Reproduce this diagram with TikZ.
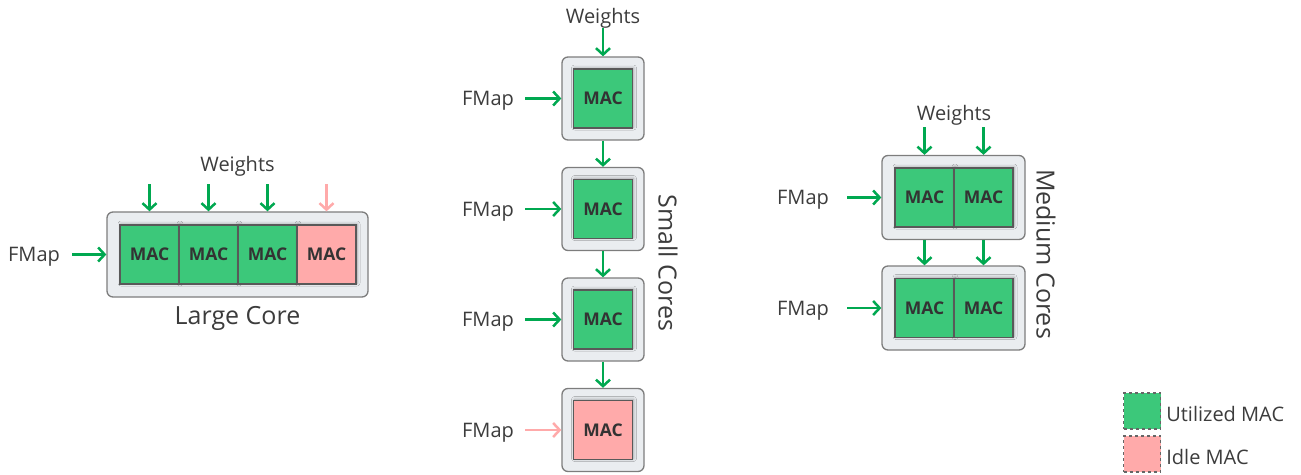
\documentclass[tikz,border=0pt]{standalone}
\usepackage{fontspec}
\setmainfont{Open Sans}
\usetikzlibrary{arrows.meta,shadows.blur}
\definecolor{macgreen}{RGB}{60,200,122}
\definecolor{macpink}{RGB}{255,170,170}
\definecolor{flowgreen}{RGB}{0,168,80}
\definecolor{flowpink}{RGB}{255,170,170}
\definecolor{corefill}{RGB}{234,237,240}
\definecolor{coreline}{RGB}{125,125,125}
\definecolor{txt}{RGB}{60,60,60}
\tikzset{
  core/.style={draw=coreline, fill=corefill, line width=1.3pt, rounded corners=6pt},
  mac/.style={draw=black!65, line width=1.2pt, minimum width=59pt, minimum height=59pt,
    inner sep=0pt, font=\bfseries\fontsize{17.5}{20}\selectfont, text=txt!85!black,
    blur shadow={shadow xshift=1pt, shadow yshift=1pt, shadow blur radius=3pt,
      shadow blur steps=8, shadow opacity=30}},
  used/.style={mac, fill=macgreen},
  idle/.style={mac, fill=macpink},
  flow/.style={draw=flowgreen, line width=2.6pt, -{Straight Barb[length=6.5pt,width=14pt,line width=2.5pt]}},
  idleflow/.style={flow, draw=flowpink},
  lbl/.style={font=\fontsize{20}{22}\selectfont, text=txt, inner sep=1pt, yshift=-2.5pt},
  title/.style={font=\fontsize{25}{28}\selectfont, text=txt, inner sep=1pt},
  key/.style={draw=black!60, dashed, line width=1.3pt, minimum width=37pt, minimum height=36pt, inner sep=0pt}
}
\begin{document}
\begin{tikzpicture}[x=1pt,y=-1pt]
\useasboundingbox (0,0) rectangle (1301,474);

% ---------- large core ----------
\node[core, minimum width=261pt, minimum height=85pt] (L) at (237.5,254.5) {};
\node[used] (L1) at (149.5,254.5) {MAC};
\node[used] (L2) at (208.5,254.5) {MAC};
\node[used] (L3) at (267.5,254.5) {MAC};
\node[idle] (L4) at (326.5,254.5) {MAC};
\node[lbl] (Lw) at (237.5,164) {Weights};
\foreach \i/\x in {1/149.5,2/208.5,3/267.5,4/326.5}
  \coordinate (Lw\i) at (\x,184);
\draw[flow] (Lw1) -- (Lw1 |- L.north);
\draw[flow] (Lw2) -- (Lw2 |- L.north);
\draw[flow] (Lw3) -- (Lw3 |- L.north);
\draw[idleflow] (Lw4) -- (Lw4 |- L.north);
\node[lbl] (Lf) at (34,254) {FMap};
\coordinate (Lfs) at (72,254.5);
\draw[flow] (Lfs) -- (L.west);
\node[title] (Lt) at (237.5,318) {Large Core};

% ---------- small cores ----------
\foreach \k/\y in {1/98.5,2/209,3/319.5,4/430}{
  \node[core, minimum width=82pt, minimum height=83pt] (S\k) at (603,\y) {};
  \node[lbl] (Sf\k) at (488,\y) {FMap};
  \coordinate (Sa\k) at (525,\y);
}
\node[used] (S1m) at (S1) {MAC};
\node[used] (S2m) at (S2) {MAC};
\node[used] (S3m) at (S3) {MAC};
\node[idle] (S4m) at (S4) {MAC};
\node[lbl] (Sw) at (603,16) {Weights};
\coordinate (Swa) at (603,28);
\draw[flow] (Swa) -- (S1.north);
\draw[flow] (S1.south) -- (S2.north);
\draw[flow] (S2.south) -- (S3.north);
\draw[flow] (S3.south) -- (S4.north);
\draw[flow] (Sa1) -- (S1.west);
\draw[flow] (Sa2) -- (S2.west);
\draw[flow] (Sa3) -- (S3.west);
\draw[idleflow] (Sa4) -- (S4.west);
\node[title, rotate=-90] (St) at (668,263) {Small Cores};

% ---------- medium cores ----------
\foreach \k/\y in {1/197.5,2/308}{
  \node[core, minimum width=143pt, minimum height=84pt] (M\k) at (953.5,\y) {};
  \node[used] (M\k a) at (924.5,\y) {MAC};
  \node[used] (M\k b) at (983.5,\y) {MAC};
  \node[lbl] (Mf\k) at (803,\y) {FMap};
  \coordinate (Ma\k) at (847,\y);
  \draw[flow] (Ma\k) -- (M\k.west);
}
\node[lbl] (Mw) at (954,113) {Weights};
\coordinate (Mw1) at (924.5,127);
\coordinate (Mw2) at (983.5,127);
\draw[flow] (Mw1) -- (Mw1 |- M1.north);
\draw[flow] (Mw2) -- (Mw2 |- M1.north);
\draw[flow] (Mw1 |- M1.south) -- (Mw1 |- M2.north);
\draw[flow] (Mw2 |- M1.south) -- (Mw2 |- M2.north);
\node[title, rotate=-90] (Mt) at (1046,254) {Medium Cores};

% ---------- legend ----------
\node[key, fill=macgreen] (K1) at (1142,411) {};
\node[key, fill=macpink] (K2) at (1142,454) {};
\node[lbl, anchor=west, xshift=4pt] (K1t) at (K1.east) {Utilized MAC};
\node[lbl, anchor=west, xshift=4pt] (K2t) at (K2.east) {Idle MAC};
\end{tikzpicture}
\end{document}
